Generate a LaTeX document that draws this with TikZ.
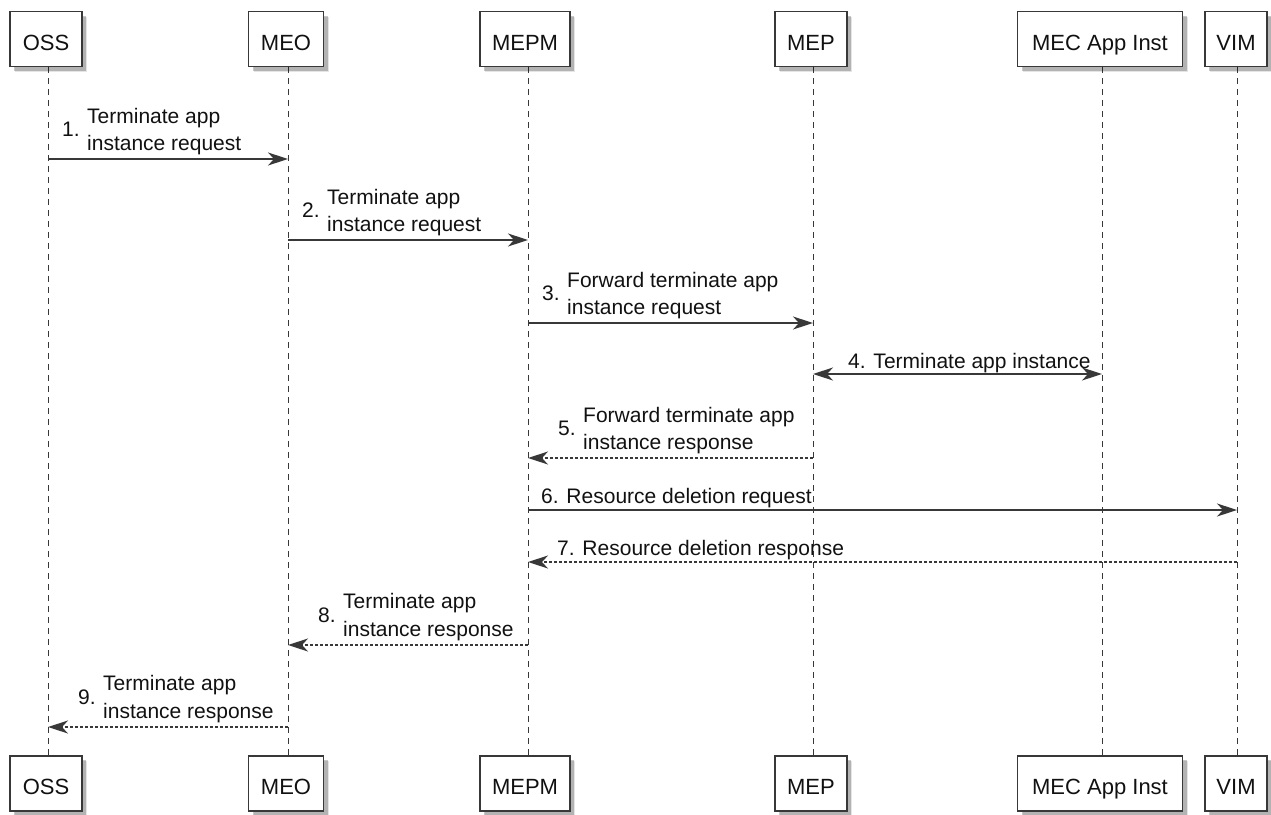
\documentclass[tikz,border=0pt]{standalone}
\usepackage{fontspec}
\setmainfont{Liberation Sans}
\usetikzlibrary{arrows.meta,shadows}
\definecolor{ln}{HTML}{383838}
\definecolor{txt}{HTML}{111111}
\tikzset{
  pbox/.style={draw=ln, line width=1.5pt, fill=white, inner sep=0pt,
    minimum height=55pt, text height=22pt, text depth=0pt, text=txt,
    font=\fontsize{22}{26}\selectfont,
    general shadow={shadow xshift=5pt, shadow yshift=-5pt, fill=black, opacity=0.10},
    general shadow={shadow xshift=4pt, shadow yshift=-4pt, fill=black, opacity=0.22}},
  life/.style={draw=ln, line width=1pt, dash pattern=on 6pt off 5pt},
  msg/.style={draw=ln, line width=1.5pt, -{Stealth[length=20pt,width=13pt,inset=6pt]}},
  rmsg/.style={msg, dash pattern=on 3pt off 2pt},
  bmsg/.style={draw=ln, line width=1.5pt, {Stealth[length=20pt,width=13pt,inset=6pt]}-{Stealth[length=20pt,width=13pt,inset=6pt]}},
  lbl/.style={anchor=base west, inner sep=0pt, text=txt, font=\fontsize{21}{25}\selectfont}
}
\begin{document}
\begin{tikzpicture}[x=1pt,y=-1pt]
\useasboundingbox (0,0) rectangle (1271,814);
% lifeline x coordinates
\coordinate (xoss) at (48,0);
\coordinate (xmeo) at (288,0);
\coordinate (xmepm) at (528,0);
\coordinate (xmep) at (813,0);
\coordinate (xmec) at (1102,0);
\coordinate (xvim) at (1237,0);
% lifelines
\draw[life] (xoss |- 0,67) -- (xoss |- 0,756);
\draw[life] (xmeo |- 0,67) -- (xmeo |- 0,756);
\draw[life] (xmepm |- 0,67) -- (xmepm |- 0,756);
\draw[life] (xmep |- 0,67) -- (xmep |- 0,756);
\draw[life] (xmec |- 0,67) -- (xmec |- 0,756);
\draw[life] (xvim |- 0,67) -- (xvim |- 0,756);
% participants top
\node[pbox, minimum width=72pt] (oss) at (46,39) {OSS};
\node[pbox, minimum width=75pt] (meo) at (286,39) {MEO};
\node[pbox, minimum width=90pt] (mepm) at (525,39) {MEPM};
\node[pbox, minimum width=72pt] (mep) at (811,39) {MEP};
\node[pbox, minimum width=165pt] (mec) at (1100,39) {MEC App Inst};
\node[pbox, minimum width=62pt] (vim) at (1236,39) {VIM};
% participants bottom
\node[pbox, minimum width=72pt] (ossb) at (46,783.5) {OSS};
\node[pbox, minimum width=75pt] (meob) at (286,783.5) {MEO};
\node[pbox, minimum width=90pt] (mepmb) at (525,783.5) {MEPM};
\node[pbox, minimum width=72pt] (mepb) at (811,783.5) {MEP};
\node[pbox, minimum width=165pt] (mecb) at (1100,783.5) {MEC App Inst};
\node[pbox, minimum width=62pt] (vimb) at (1236,783.5) {VIM};
% 1
\draw[msg] (xoss |- 0,159) -- (xmeo |- 0,159);
\node[lbl] (n1) at (62,136) {1.};
\node[lbl] (t1a) at (87,123) {Terminate app};
\node[lbl] (t1b) at (87,150.5) {instance request};
% 2
\draw[msg] (xmeo |- 0,240) -- (xmepm |- 0,240);
\node[lbl] (n2) at (302,217) {2.};
\node[lbl] (t2a) at (327,204) {Terminate app};
\node[lbl] (t2b) at (327,231.5) {instance request};
% 3
\draw[msg] (xmepm |- 0,323) -- (xmep |- 0,323);
\node[lbl] (n3) at (542,300) {3.};
\node[lbl] (t3a) at (567,287) {Forward terminate app};
\node[lbl] (t3b) at (567,314.5) {instance request};
% 4
\draw[bmsg] (xmep |- 0,374) -- (xmec |- 0,374);
\node[lbl] (t4) at (848,368) {4. Terminate app instance};
% 5
\draw[rmsg] (xmep |- 0,458) -- (xmepm |- 0,458);
\node[lbl] (n5) at (558,435) {5.};
\node[lbl] (t5a) at (583,422) {Forward terminate app};
\node[lbl] (t5b) at (583,449.5) {instance response};
% 6
\draw[msg] (xmepm |- 0,510) -- (xvim |- 0,510);
\node[lbl] (t6) at (541,503) {6. Resource deletion request};
% 7
\draw[rmsg] (xvim |- 0,562) -- (xmepm |- 0,562);
\node[lbl] (t7) at (557,555) {7. Resource deletion response};
% 8
\draw[rmsg] (xmepm |- 0,645) -- (xmeo |- 0,645);
\node[lbl] (n8) at (318,622) {8.};
\node[lbl] (t8a) at (343,608.5) {Terminate app};
\node[lbl] (t8b) at (343,636) {instance response};
% 9
\draw[rmsg] (xmeo |- 0,727) -- (xoss |- 0,727);
\node[lbl] (n9) at (78,704) {9.};
\node[lbl] (t9a) at (103,690.5) {Terminate app};
\node[lbl] (t9b) at (103,718) {instance response};
\end{tikzpicture}
\end{document}
